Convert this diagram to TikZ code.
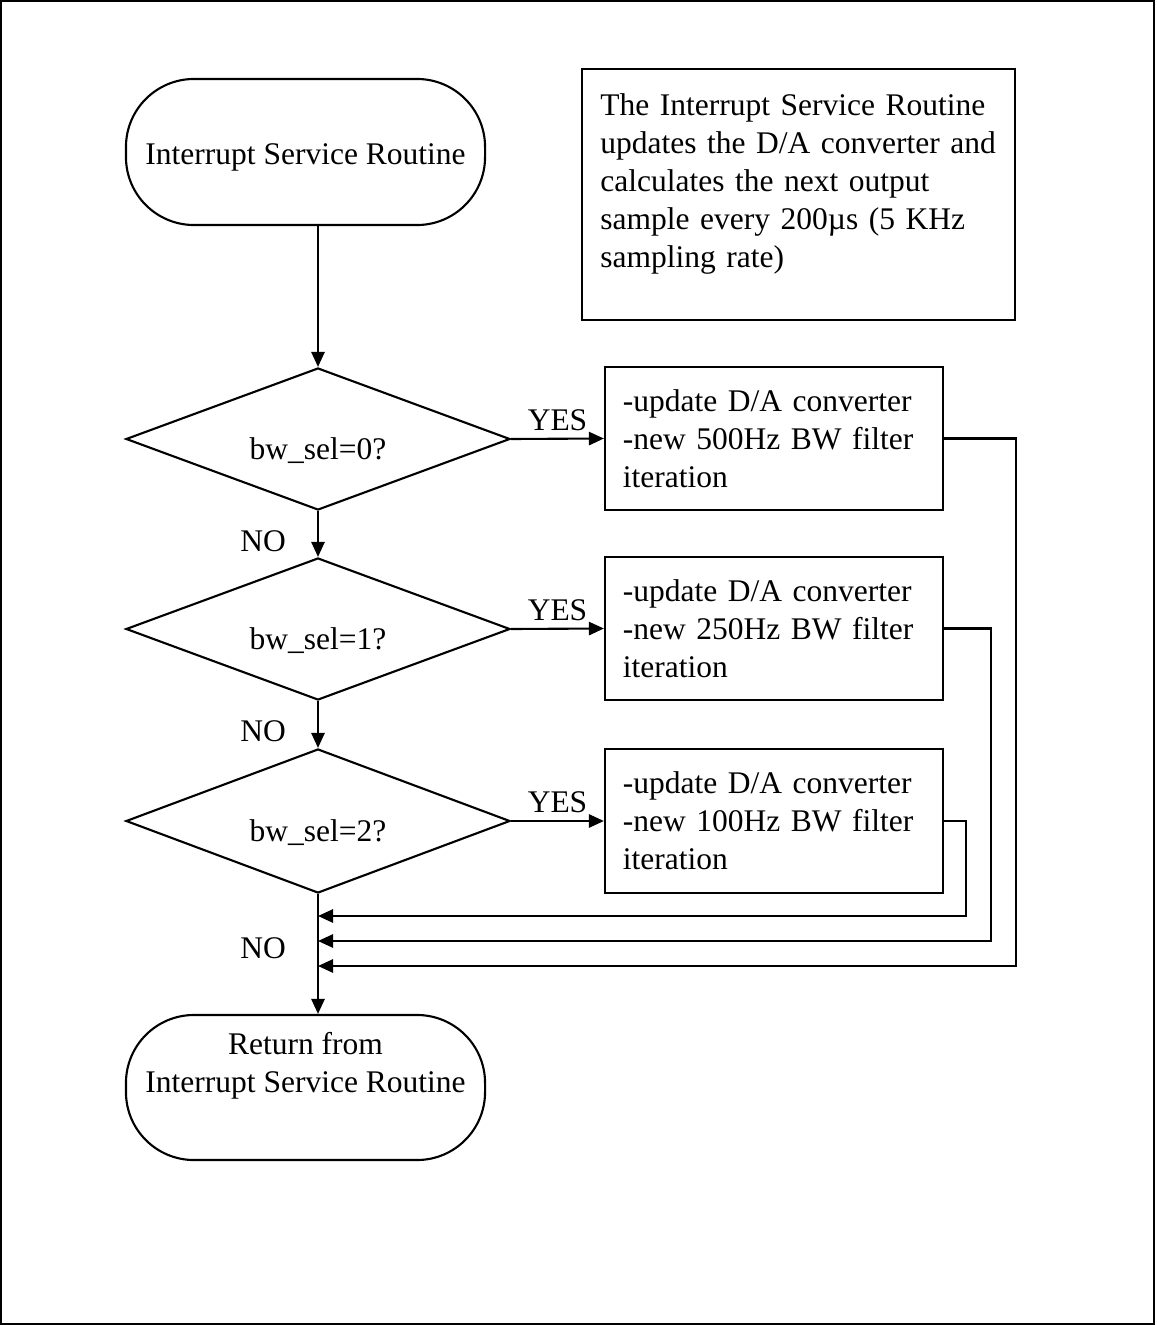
\documentclass[tikz,border=0pt]{standalone}
\usepackage{fontspec}
\setmainfont{Liberation Serif}
\usepackage{tikz}
\usetikzlibrary{shapes,arrows.meta}

\begin{document}
\begin{tikzpicture}[x=0.025cm,y=-0.025cm,line width=1.5pt,font=\fontsize{22.4}{27}\selectfont]
\tikzstyle{terminal}=[draw,rounded corners=1.7cm,minimum width=8.975cm,minimum height=3.65cm,align=center]
\tikzstyle{decision}=[draw,diamond,aspect=2.7,minimum width=9.6cm,minimum height=3.55cm,inner sep=0pt,text height=1.1cm,text depth=0.1cm]
\tikzstyle{process}=[draw,rectangle,text width=7.55cm,inner xsep=0.45cm,minimum height=3.575cm,align=left]
\tikzstyle{arr}=[-{Triangle[length=0.375cm,width=0.33cm]}]
\tikzstyle{yeslbl}=[above,inner sep=5pt]
\tikzstyle{nolbl}=[left,inner sep=0pt,xshift=-0.775cm]
	\useasboundingbox (0,0) rectangle (1156,1325);
	\draw[line width=1pt] (1,1) rectangle (1154,1324);
	% start and note
	\node[terminal,text height=0.75cm,text depth=0.1cm] (start) at (305.5,152) {Interrupt Service Routine};
	\node[draw,text width=9.9cm,inner xsep=0.46cm,minimum height=6.275cm,align=left] (note) at (798.5,194.5)
		{The Interrupt Service Routine\\updates the D/A converter and\\calculates the next output\\sample every 200µs (5 KHz\\sampling rate)\\[-7pt]\mbox{}};
	% decisions
	\node[decision] (d1) at (318,439) {bw\_sel=0?};
	\node[decision] (d2) at (318,629) {bw\_sel=1?};
	\node[decision,minimum height=3.6cm] (d3) at (318,821) {bw\_sel=2?};
	% filter boxes
	\node[process] (b1) at (774,438.5) {-update D/A converter\\-new 500Hz BW filter\\iteration};
	\node[process] (b2) at (774,628.5) {-update D/A converter\\-new 250Hz BW filter\\iteration};
	\node[process,minimum height=3.6cm] (b3) at (774,821) {-update D/A converter\\-new 100Hz BW filter\\iteration};
	% return
	\node[terminal,minimum height=3.625cm] (ret) at (305.5,1087.5) {Return from\\Interrupt Service Routine\\\strut};
	\coordinate (j1) at (318,916);
	\coordinate (j2) at (318,941);
	\coordinate (j3) at (318,966);
	% connectors
	\draw[arr] (start.south -| d1.north) -- (d1.north);
	\draw[arr] (d1.east) -- node[yeslbl] {YES} (b1.west);
	\draw[arr] (d2.east) -- node[yeslbl] {YES} (b2.west);
	\draw[arr] (d3.east) -- node[yeslbl] {YES} (b3.west);
	\draw[arr] (d1.south) -- node[nolbl,pos=0.65] {NO} (d2.north);
	\draw[arr] (d2.south) -- node[nolbl,pos=0.65] {NO} (d3.north);
	\draw[arr] (d3.south) -- node[nolbl,pos=0.45] {NO} (d3.south |- ret.north);
	\draw[arr] (b1.east) -- ++(72,0) |- (j3);
	\draw[arr] (b2.east) -- ++(47,0) |- (j2);
	\draw[arr] (b3.east) -- ++(22,0) |- (j1);
%	\node at (note.south) {};
\end{tikzpicture}
\end{document}
